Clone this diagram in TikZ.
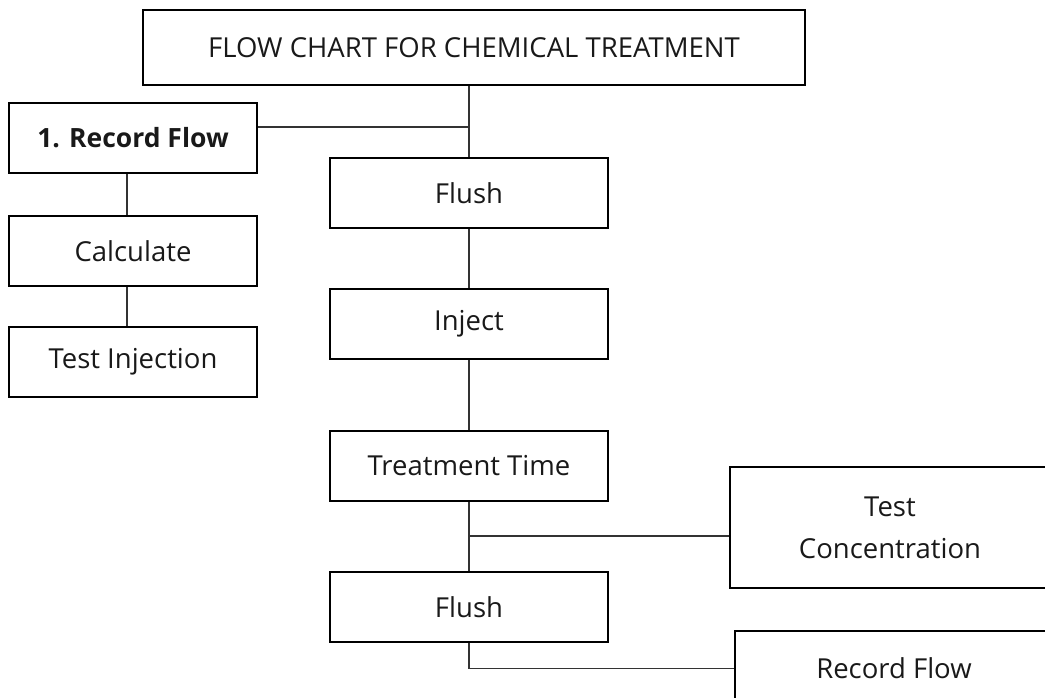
\documentclass[tikz,border=0pt]{standalone}
\usepackage{fontspec}
\setmainfont{Open Sans}
\usetikzlibrary{positioning}

\begin{document}
\begin{tikzpicture}[x=1pt,y=-1pt,
  box/.style={draw,line width=1.6pt,minimum width=248pt,minimum height=70pt,
    inner sep=0pt,align=center,text=black!90,font=\fontsize{27.5}{42}\selectfont},
  link/.style={line width=1.2pt,draw=black!80}]
  \clip (0,0) rectangle (1045,697);
  % top and left column
  \node[box,minimum width=662pt,minimum height=75pt] (title) at (474,47.5) {FLOW CHART FOR CHEMICAL TREATMENT};
  \node[box,font=\fontsize{26.5}{42}\selectfont\bfseries] (rec) at (133,138) {1. Record Flow};
  \node[box] (calc) at (133,251) {Calculate};
  \node[box] (testinj) at (133,362) {Test Injection};
  % middle column
  \node[box,minimum width=278pt] (flushA) at (469,193) {Flush};
  \node[box,minimum width=278pt] (inject) at (469,324) {Inject};
  \node[box,minimum width=278pt] (treat) at (469,466) {Treatment Time};
  \node[box,minimum width=278pt] (flushB) at (469,607) {Flush};
  % right column
  \node[box,minimum width=320pt,minimum height=121pt] (testconc) at (890,527.5) {Test\\Concentration};
  \node[box,minimum width=318pt,minimum height=75pt] (recB) at (894,668.5) {Record Flow};
  % connectors
  \coordinate (jA) at (flushA.north |- 0,127);
  \coordinate (jB) at (treat.south |- 0,536);
  \draw[link] (flushA.north |- title.south) -- (flushA.north);
  \draw[link] (rec.east |- jA) -- (jA);
  \draw[link] ([xshift=-6pt]rec.south) -- ([xshift=-6pt]calc.north);
  \draw[link] ([xshift=-6pt]calc.south) -- ([xshift=-6pt]testinj.north);
  \draw[link] (flushA) -- (inject);
  \draw[link] (inject) -- (treat);
  \draw[link] (treat) -- (flushB);
  \draw[link] (jB) -- (testconc.west |- jB);
  \draw[link] (flushB.south) |- (recB.west);
\end{tikzpicture}
\end{document}
